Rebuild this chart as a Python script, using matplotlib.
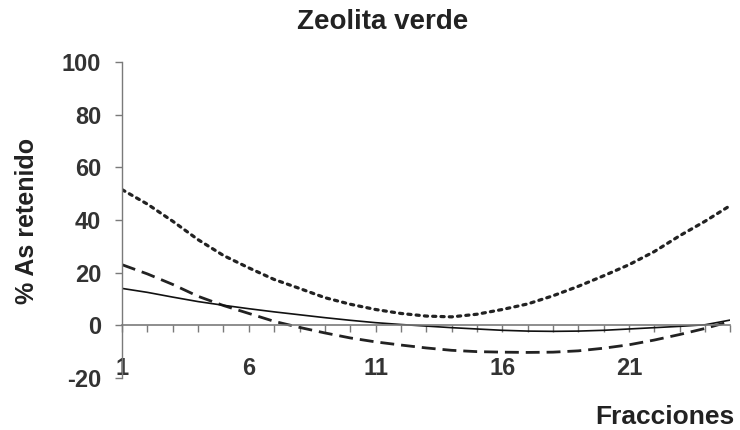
import matplotlib
matplotlib.use("Agg")
import matplotlib.pyplot as plt
from matplotlib.ticker import MultipleLocator, FixedLocator

plt.rcParams['font.family'] = ['Liberation Sans', 'DejaVu Sans']
plt.rcParams['axes.unicode_minus'] = False

# fracciones 1..25
fracciones = list(range(1, 26))

# curvas (% As retenido)
serie_punteada = [51.5, 46.0, 39.5, 32.5, 26.5, 21.8, 17.4, 14.0, 10.5, 8.0,
                  6.0, 4.5, 3.5, 3.2, 4.2, 6.0, 8.1, 11.2, 14.8, 18.8,
                  23.0, 28.0, 34.0, 39.5, 45.5]
serie_guiones = [23.0, 19.5, 15.5, 11.0, 7.5, 4.5, 1.5, -0.8, -2.9, -4.8,
                 -6.3, -7.5, -8.6, -9.5, -10.0, -10.2, -10.3, -10.2, -9.7, -8.7,
                 -7.4, -5.6, -3.5, -1.2, 1.5]
serie_continua = [14.0, 12.5, 10.7, 9.0, 7.6, 6.3, 5.1, 4.0, 2.9, 1.9,
                  1.0, 0.3, -0.3, -0.9, -1.4, -1.9, -2.2, -2.3, -2.2, -1.9,
                  -1.4, -0.9, -0.4, 0.2, 2.0]

etiquetas_x = [1, 6, 11, 16, 21]
ticks_y = [-20, 0, 20, 40, 60, 80, 100]

fig = plt.figure(figsize=(7.4, 4.3), dpi=100)
ax = fig.add_axes([0.165, 0.121, 0.822, 0.735])

gris = '#7a7a7a'
ax.plot(fracciones, serie_punteada, color='#222222', lw=2.3,
        linestyle=(0, (1.0, 1.6)), dash_capstyle='round')
ax.plot(fracciones, serie_guiones, color='#222222', lw=2.0,
        linestyle=(0, (5, 2.5)))
ax.plot(fracciones, serie_continua, color='#111111', lw=1.2)

ax.set_xlim(1, 25)
ax.set_ylim(-20, 100)

for s in ['top', 'right']:
    ax.spines[s].set_visible(False)
ax.spines['bottom'].set_position(('data', 0))
ax.spines['bottom'].set_color(gris)
ax.spines['left'].set_color(gris)
ax.spines['bottom'].set_linewidth(1.2)
ax.spines['left'].set_linewidth(1.0)

ax.xaxis.set_major_locator(FixedLocator(etiquetas_x))
ax.xaxis.set_minor_locator(MultipleLocator(1))
ax.set_yticks(ticks_y)
ax.tick_params(axis='x', which='both', direction='out', length=5, color=gris,
               width=1.0)
ax.tick_params(axis='x', which='major', pad=18, labelsize=17,
               labelcolor='#333333')
ax.tick_params(axis='y', direction='out', length=5, color=gris, width=1.0,
               pad=10, labelsize=17, labelcolor='#333333')
for lab in ax.get_xticklabels() + ax.get_yticklabels():
    lab.set_fontweight('bold')

fig.text(0.517, 0.949, 'Zeolita verde', ha='center', va='center',
         fontsize=20, fontweight='bold', color='#222222')
fig.text(0.037, 0.486, '% As retenido', ha='center', va='center',
         rotation=90, fontsize=18, fontweight='bold', color='#222222')
fig.text(0.993, 0.03, 'Fracciones', ha='right', va='center',
         fontsize=19, fontweight='bold', color='#222222')

fig.savefig('out.png', dpi=100)
